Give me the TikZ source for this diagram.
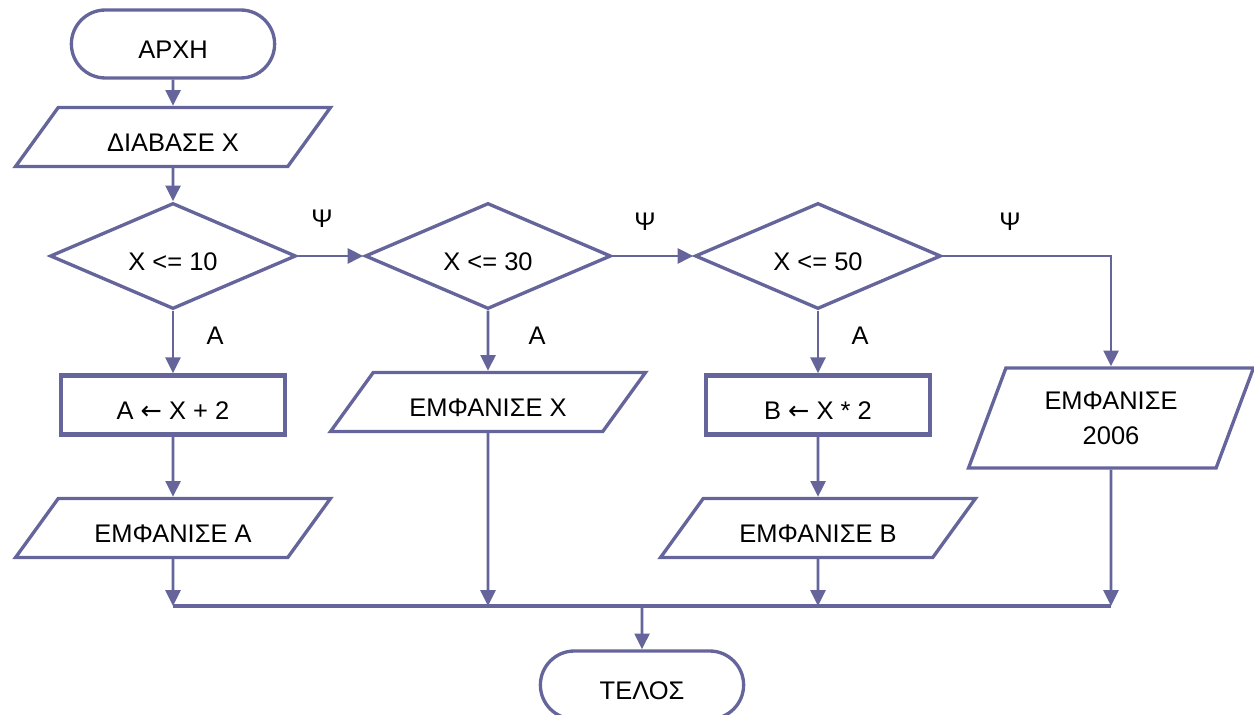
\documentclass[tikz,border=0pt]{standalone}
\usepackage{fontspec}
\setmainfont{Liberation Sans}
\newfontfamily\arrowfont{DejaVu Sans}
\usetikzlibrary{shapes.geometric,shapes.misc,arrows.meta}
\definecolor{flowline}{RGB}{101,101,156}

\begin{document}
\begin{tikzpicture}[
        x=0.02cm, y=-0.02cm,
        font=\fontsize{14.5}{20}\selectfont,
        lowtext/.style={text height=16pt, text depth=0pt},
        term/.style={rounded rectangle, lowtext, draw=flowline, line width=1.9pt, minimum width=4.3cm, minimum height=1.36cm},
        io/.style={trapezium, trapezium left angle=43, trapezium right angle=137, trapezium stretches body, draw=flowline, line width=1.9pt, minimum width=6.3cm, minimum height=1.18cm},
        data/.style={io, lowtext},
        decision/.style={diamond, aspect=2.3, inner sep=0pt, lowtext, draw=flowline, line width=1.9pt, minimum width=4.92cm, minimum height=2.12cm},
        process/.style={rectangle, lowtext, draw=flowline, line width=2.5pt, minimum width=4.48cm, minimum height=1.18cm},
        arrow/.style={-{Triangle[length=9pt,width=8.5pt]}, flowline, line width=1.6pt},
        busline/.style={flowline, line width=2.8pt}
    ]
        \useasboundingbox (0,0) rectangle (1254,715);

        % Main column
        \node[term] (start) at (173, 44) {ΑΡΧΗ};
        \node[data] (read) at (173, 137) {ΔΙΑΒΑΣΕ Χ};

        % Decisions
        \node[decision] (d1) at (173, 256) {Χ <= 10};
        \node[decision] (d2) at (488, 256) {Χ <= 30};
        \node[decision] (d3) at (818, 256) {Χ <= 50};

        % Branches
        \node[process] (calcA) at (173, 405) {Α {\arrowfont ←} Χ + 2};
        \node[data] (outA) at (173, 528) {ΕΜΦΑΝΙΣΕ Α};
        \node[data] (outX) at (488, 402) {ΕΜΦΑΝΙΣΕ Χ};
        \node[process] (calcB) at (818, 405) {Β {\arrowfont ←} Χ * 2};
        \node[data] (outB) at (818, 528) {ΕΜΦΑΝΙΣΕ Β};
        \node[io, trapezium left angle=60, trapezium right angle=120, minimum width=5.7cm, minimum height=2cm, align=center] (out2006) at (1111, 418) {ΕΜΦΑΝΙΣΕ\\2006};

        % End
        \coordinate (bus) at (642, 606);
        \node[term] (end) at (642, 685) {ΤΕΛΟΣ};

        % Arrows
        \draw[arrow] (start) -- (read);
        \draw[arrow] (read) -- (d1);
        \draw[arrow] (d1.east) -- (d2.west);
        \draw[arrow] (d2.east) -- (d3.west);
        \draw[arrow] (d3.east) -| (out2006.north);
        \draw[arrow] (d1.south) -- (calcA.north);
        \draw[arrow] (d2.south) -- (outX.north);
        \draw[arrow] (d3.south) -- (calcB.north);
        \draw[arrow] (calcA) -- (outA);
        \draw[arrow] (calcB) -- (outB);
        \draw[arrow] (outA) -- (outA |- bus);
        \draw[arrow] (outX) -- (outX |- bus);
        \draw[arrow] (outB) -- (outB |- bus);
        \draw[arrow] (out2006) -- (out2006 |- bus);
        \draw[busline] (outA |- bus) -- (out2006 |- bus);
        \draw[arrow] (bus) -- (end);

        % Branch labels
        \node (psi1) at (322, 219) {Ψ};
        \node (psi2) at (645, 222) {Ψ};
        \node (psi3) at (1010, 222) {Ψ};
        \node (yes1) at (215, 336) {Α};
        \node (yes2) at (537, 336) {Α};
        \node (yes3) at (860, 336) {Α};

    \end{tikzpicture}
\end{document}
